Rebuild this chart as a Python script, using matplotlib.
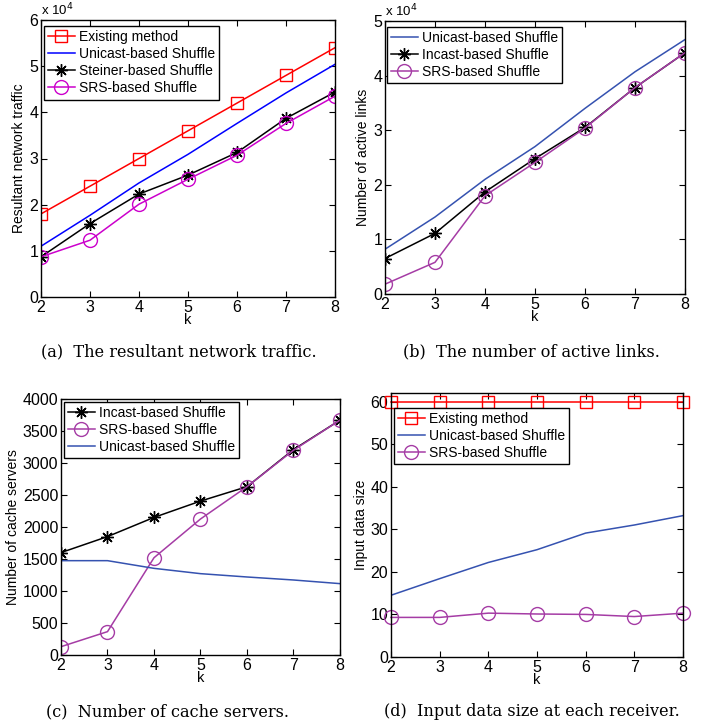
import numpy as np
import matplotlib
matplotlib.use("Agg")
import matplotlib.pyplot as plt
from matplotlib.ticker import FuncFormatter

plt.rcParams['font.family'] = ['Liberation Sans', 'DejaVu Sans']

k = [2, 3, 4, 5, 6, 7, 8]

# (a) resultant network traffic
traffic_existing = [18000, 24000, 30000, 36000, 42000, 48000, 54000]
traffic_unicast = [11000, 17700, 24700, 30900, 37600, 44200, 50400]
traffic_steiner = [8700, 15900, 22300, 26400, 31300, 38700, 44400]
traffic_srs = [8700, 12300, 20100, 25500, 30700, 37600, 43500]

# (b) active links
links_unicast = [8200, 14100, 21000, 27000, 34000, 40700, 46600]
links_incast = [6500, 11100, 18700, 24800, 30500, 37800, 44200]
links_srs = [1800, 5800, 18000, 24100, 30400, 37800, 44200]

# (c) cache servers
cache_incast = [1600, 1850, 2150, 2405, 2630, 3210, 3670]
cache_srs = [130, 365, 1520, 2125, 2630, 3200, 3670]
cache_unicast = [1474, 1474, 1354, 1271, 1219, 1172, 1115]

# (d) input data size
input_existing = [60, 60, 60, 60, 60, 60, 60]
input_unicast = [14.5, 18.4, 22.2, 25.2, 29.1, 31.0, 33.2]
input_srs = [9.3, 9.3, 10.3, 10.1, 10.0, 9.5, 10.3]

captions = ["(a)  The resultant network traffic.",
            "(b)  The number of active links.",
            "(c)  Number of cache servers.",
            "(d)  Input data size at each receiver."]

W, H = 706, 725
fig = plt.figure(figsize=(W / 100, H / 100), dpi=100)


def add_ax(l, t, r, b):
    return fig.add_axes([l / W, 1 - b / H, (r - l) / W, (b - t) / H])


def style(ax, ylim, yticks, ylabel):
    ax.set_xlim(2, 8)
    ax.set_ylim(*ylim)
    ax.set_xticks(k)
    ax.set_yticks(yticks)
    ax.tick_params(direction='in', top=True, right=True, labelsize=11.5, length=4, pad=2)
    ax.set_xlabel('k', fontsize=10.5, labelpad=-1)
    ax.set_ylabel(ylabel, fontsize=10, labelpad=2)
    for s in ax.spines.values():
        s.set_linewidth(1.0)


def legend(ax, x, y):
    leg = ax.legend(loc='upper left', bbox_to_anchor=(x / W, 1 - y / H),
                    bbox_transform=fig.transFigure, borderaxespad=0,
                    fancybox=False, edgecolor='black', fontsize=10,
                    handlelength=1.9, handletextpad=0.3, borderpad=0.3,
                    labelspacing=0.22, framealpha=1)
    leg.get_frame().set_linewidth(1.0)


def sci(ax):
    ax.yaxis.set_major_formatter(FuncFormatter(lambda v, p: '%g' % (v / 1e4)))
    ax.text(0.0, 1.005, r'x 10$^{4}$', transform=ax.transAxes, fontsize=9.5,
            ha='left', va='bottom')


sq = dict(marker='s', markersize=8, markerfacecolor='none', markeredgewidth=1.0)
ci = dict(marker='o', markersize=10, markerfacecolor='none', markeredgewidth=1.0)
st = dict(marker=(8, 2, 0), markersize=9, markeredgewidth=1.0)

# (a)
ax = add_ax(41, 20, 335, 297)
ax.plot(k, traffic_existing, color='#ff0000', lw=1.1, label='Existing method', **sq)
ax.plot(k, traffic_unicast, color='#0000ff', lw=1.1, label='Unicast-based Shuffle')
ax.plot(k, traffic_steiner, color='black', lw=1.1, label='Steiner-based Shuffle', **st)
ax.plot(k, traffic_srs, color='#cc00cc', lw=1.1, label='SRS-based Shuffle', **ci)
style(ax, (0, 60000), np.arange(0, 60001, 10000), 'Resultant network traffic')
sci(ax)
legend(ax, 44, 26)

# (b)
blue2 = '#3552b0'
purple = '#a53ca5'
ax = add_ax(385, 21, 685, 294)
ax.plot(k, links_unicast, color=blue2, lw=1.1, label='Unicast-based Shuffle')
ax.plot(k, links_incast, color='black', lw=1.1, label='Incast-based Shuffle', **st)
ax.plot(k, links_srs, color=purple, lw=1.1, label='SRS-based Shuffle', **ci)
style(ax, (0, 50000), np.arange(0, 50001, 10000), 'Number of active links')
sci(ax)
legend(ax, 387, 27)

# (c)
ax = add_ax(61, 399, 340, 655)
ax.plot(k, cache_incast, color='black', lw=1.1, label='Incast-based Shuffle', **st)
ax.plot(k, cache_srs, color=purple, lw=1.1, label='SRS-based Shuffle', **ci)
ax.plot(k, cache_unicast, color=blue2, lw=1.1, label='Unicast-based Shuffle')
style(ax, (0, 4000), np.arange(0, 4001, 500), 'Number of cache servers')
legend(ax, 64, 402)

# (d)
ax = add_ax(391, 393, 683, 657)
ax.plot(k, input_existing, color='#ff0000', lw=1.1, label='Existing method', clip_on=False, **sq)
ax.plot(k, input_unicast, color=blue2, lw=1.1, label='Unicast-based Shuffle')
ax.plot(k, input_srs, color=purple, lw=1.1, label='SRS-based Shuffle', clip_on=False, **ci)
style(ax, (0, 62), np.arange(0, 61, 10), 'Input data size')
legend(ax, 394, 408)

cap_pos = [(179, 352), (531, 352), (167, 712), (532, 712)]
for (cx, cy), c in zip(cap_pos, captions):
    fig.text(cx / W, 1 - cy / H, c, ha='center', va='center', fontsize=11.6,
             family=['DejaVu Serif'])

fig.savefig('out.png', dpi=100)
